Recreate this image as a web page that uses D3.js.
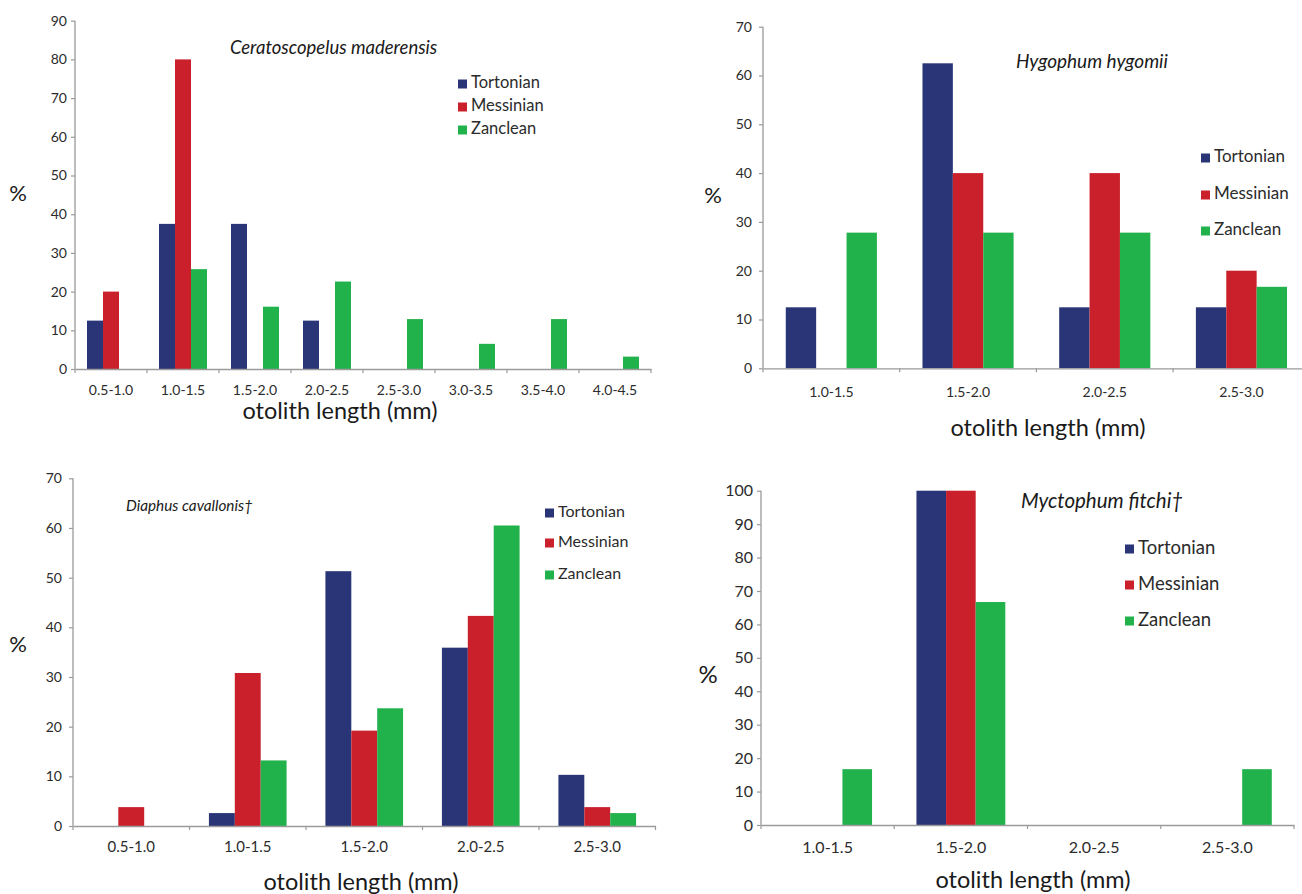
<!DOCTYPE html>
<html>
<head>
<meta charset="utf-8">
<script src="https://cdn.jsdelivr.net/npm/d3@7"></script>
<style>
  html, body { margin: 0; padding: 0; background: #fff; }
  svg { display: block; font-family: Lato, "Open Sans", sans-serif; }
</style>
</head>
<body>
<svg id="chart" width="1302" height="894"></svg>
<script>
// ---------- DATA ----------
const seriesNames = ["Tortonian", "Messinian", "Zanclean"];

const categories1 = ["0.5-1.0", "1.0-1.5", "1.5-2.0", "2.0-2.5", "2.5-3.0", "3.0-3.5", "3.5-4.0", "4.0-4.5"];
const tortonian1  = [12.5, 37.5, 37.5, 12.5, 0, 0, 0, 0];
const messinian1  = [20, 80, 0, 0, 0, 0, 0, 0];
const zanclean1   = [0, 25.8, 16.1, 22.6, 12.9, 6.5, 12.9, 3.2];
const yTicks1     = [0, 10, 20, 30, 40, 50, 60, 70, 80, 90];

const categories2 = ["1.0-1.5", "1.5-2.0", "2.0-2.5", "2.5-3.0"];
const tortonian2  = [12.5, 62.5, 12.5, 12.5];
const messinian2  = [0, 40, 40, 20];
const zanclean2   = [27.8, 27.8, 27.8, 16.7];
const yTicks2     = [0, 10, 20, 30, 40, 50, 60, 70];

const categories3 = ["0.5-1.0", "1.0-1.5", "1.5-2.0", "2.0-2.5", "2.5-3.0"];
const tortonian3  = [0, 2.6, 51.3, 35.9, 10.3];
const messinian3  = [3.8, 30.8, 19.2, 42.3, 3.8];
const zanclean3   = [0, 13.2, 23.7, 60.5, 2.6];
const yTicks3     = [0, 10, 20, 30, 40, 50, 60, 70];

const categories4 = ["1.0-1.5", "1.5-2.0", "2.0-2.5", "2.5-3.0"];
const tortonian4  = [0, 100, 0, 0];
const messinian4  = [0, 100, 0, 0];
const zanclean4   = [16.7, 66.7, 0, 16.7];
const yTicks4     = [0, 10, 20, 30, 40, 50, 60, 70, 80, 90, 100];

const colors = ["#2a3577", "#c9202b", "#22b24c"];

// ---------- LAYOUT ----------
const panels = [
  { title: "Ceratoscopelus maderensis", cats: categories1, series: [tortonian1, messinian1, zanclean1], ticks: yTicks1,
    x0: 75, x1: 651, yZero: 369, yTop: 20.7,
    tickFont: 14, catFont: 14, catY: 391, axisTitleX: 340, axisTitleY: 413, axisTitleFont: 23.5,
    pctX: 18, pctY: 195, pctFont: 22,
    titleX: 230, titleY: 49, titleFont: 18.5,
    legX: 458, legY: [84, 107, 130], legFont: 16.5, legSq: 9, yLabGap: 8 },
  { title: "Hygophum hygomii", cats: categories2, series: [tortonian2, messinian2, zanclean2], ticks: yTicks2,
    x0: 763, x1: 1309.8, yZero: 368.3, yTop: 26.7,
    tickFont: 14, catFont: 14, catY: 393, axisTitleX: 1048, axisTitleY: 430, axisTitleFont: 23.5,
    pctX: 713, pctY: 197, pctFont: 22,
    titleX: 1016, titleY: 63, titleFont: 19,
    legX: 1201, legY: [158, 195, 231], legFont: 17, legSq: 9, yLabGap: 11 },
  { title: "Diaphus cavallonis\u2020", cats: categories3, series: [tortonian3, messinian3, zanclean3], ticks: yTicks3,
    x0: 73, x1: 655.5, yZero: 826, yTop: 478.3,
    tickFont: 14, catFont: 15, catY: 848, axisTitleX: 361, axisTitleY: 884, axisTitleFont: 23.5,
    pctX: 18, pctY: 646, pctFont: 22,
    titleX: 126, titleY: 507, titleFont: 15.3,
    legX: 545, legY: [513, 543, 575], legFont: 16, legSq: 9, yLabGap: 11 },
  { title: "Myctophum fitchi\u2020", cats: categories4, series: [tortonian4, messinian4, zanclean4], ticks: yTicks4,
    x0: 761, x1: 1294, yZero: 825, yTop: 490.7,
    tickFont: 16, catFont: 16, catY: 849, axisTitleX: 1033, axisTitleY: 882, axisTitleFont: 23.5,
    pctX: 708, pctY: 677, pctFont: 24,
    titleX: 1021, titleY: 503, titleFont: 20.5,
    legX: 1125, legY: [549, 585, 621], legFont: 18.5, legSq: 9, yLabGap: 8 }
];

const svg = d3.select("#chart");
const axisColor = "#9a9a9a";
const textColor = "#2b2b2b";

panels.forEach(p => {
  const g = svg.append("g");
  const ymax = p.ticks[p.ticks.length - 1];
  const y = d3.scaleLinear().domain([0, ymax]).range([p.yZero, p.yTop]);
  const x = d3.scaleBand().domain(p.cats).range([p.x0, p.x1]).paddingInner(0).paddingOuter(0);
  const xs = d3.scaleBand().domain(seriesNames).range([0, x.bandwidth()]).paddingInner(0).paddingOuter(0.75);

  // bars
  seriesNames.forEach((s, si) => {
    const vals = p.series[si];
    g.append("g").selectAll("rect")
      .data(p.cats.map((c, i) => ({ c, v: vals[i] })).filter(d => d.v > 0))
      .join("rect")
      .attr("x", d => x(d.c) + xs(s))
      .attr("y", d => y(d.v))
      .attr("width", xs.bandwidth())
      .attr("height", d => y(0) - y(d.v))
      .attr("fill", colors[si]);
  });

  // y axis
  const yAxis = d3.axisLeft(y).tickValues(p.ticks).tickSize(4).tickPadding(p.yLabGap - 4).tickFormat(d3.format("d"));
  const ya = g.append("g").attr("transform", `translate(${p.x0},0)`).call(yAxis);
  ya.select(".domain").attr("stroke", axisColor).attr("stroke-width", 1.3).attr("d", `M0,${p.yZero}V${p.yTop}`);
  ya.selectAll(".tick line").attr("stroke", axisColor).attr("stroke-width", 1.2);
  ya.selectAll(".tick text").attr("fill", textColor).style("font-size", p.tickFont + "px").style("font-family", "Lato, sans-serif");

  // x axis (labels at band centres, ticks between categories)
  const xAxis = d3.axisBottom(x).tickSize(0).tickPadding(0);
  const xa = g.append("g").attr("transform", `translate(0,${p.yZero})`).call(xAxis);
  xa.select(".domain").attr("stroke", axisColor).attr("stroke-width", 1.3);
  xa.selectAll(".tick text").attr("fill", textColor).attr("dy", null)
    .attr("y", p.catY - p.yZero).attr("dominant-baseline", "middle")
    .style("font-size", p.catFont + "px").style("font-family", "Lato, sans-serif");
  const bounds = p.cats.map(c => x(c)).concat([x(p.cats[p.cats.length - 1]) + x.bandwidth()]);
  g.append("g").selectAll("line").data(bounds).join("line")
    .attr("x1", d => d).attr("x2", d => d)
    .attr("y1", p.yZero).attr("y2", p.yZero + 4)
    .attr("stroke", axisColor).attr("stroke-width", 1.2);

  // axis titles
  g.append("text").attr("x", p.axisTitleX).attr("y", p.axisTitleY)
    .attr("text-anchor", "middle").attr("dominant-baseline", "middle")
    .attr("fill", "#1a1a1a").style("font-size", p.axisTitleFont + "px").text("otolith length (mm)");
  g.append("text").attr("x", p.pctX).attr("y", p.pctY)
    .attr("text-anchor", "middle").attr("dominant-baseline", "middle")
    .attr("fill", "#1a1a1a").style("font-size", p.pctFont + "px").text("%");

  // species title
  g.append("text").attr("x", p.titleX).attr("y", p.titleY)
    .attr("dominant-baseline", "middle").attr("fill", "#1a1a1a")
    .style("font-style", "italic").style("font-size", p.titleFont + "px").text(p.title);

  // legend
  seriesNames.forEach((s, si) => {
    g.append("rect").attr("x", p.legX).attr("y", p.legY[si] - p.legSq / 2)
      .attr("width", p.legSq).attr("height", p.legSq).attr("fill", colors[si]);
    g.append("text").attr("x", p.legX + p.legSq + 4).attr("y", p.legY[si])
      .attr("dominant-baseline", "middle").attr("fill", textColor)
      .style("font-size", p.legFont + "px").text(s);
  });
});
</script>
</body>
</html>
